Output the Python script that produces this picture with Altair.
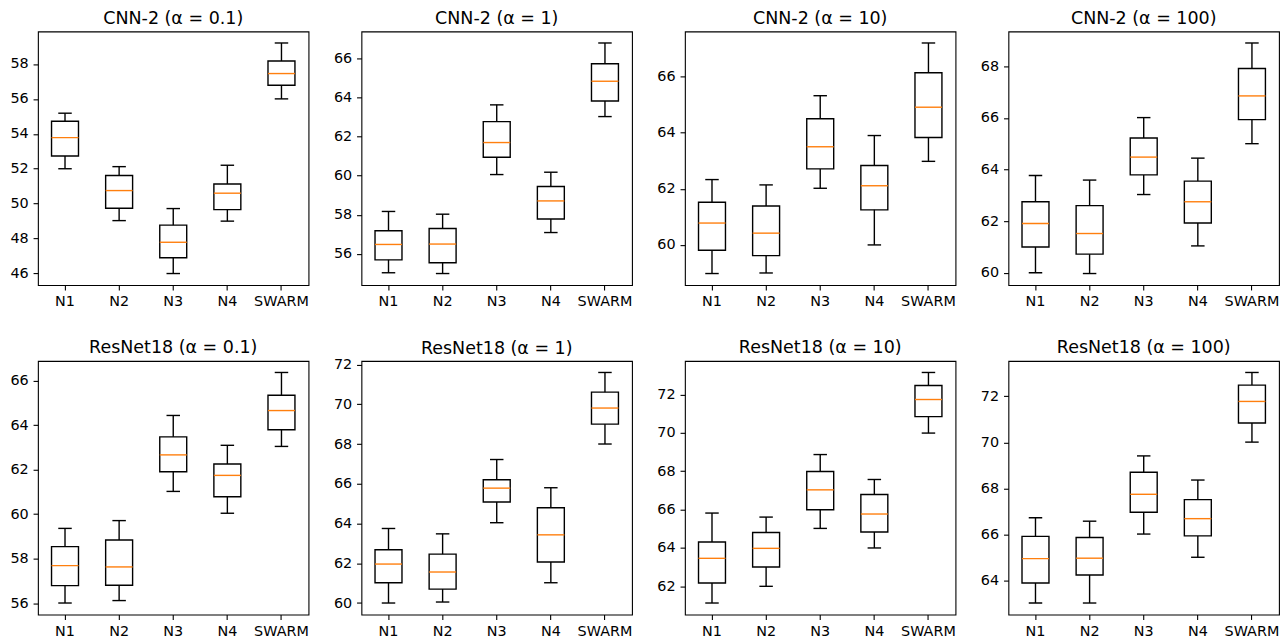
import altair as alt
import pandas as pd

clients = ["N1", "N2", "N3", "N4", "SWARM"]

titles = [
    "CNN-2 (α = 0.1)", "CNN-2 (α = 1)", "CNN-2 (α = 10)", "CNN-2 (α = 100)",
    "ResNet18 (α = 0.1)", "ResNet18 (α = 1)", "ResNet18 (α = 10)", "ResNet18 (α = 100)",
]

# whisker low, Q1, median, Q3, whisker high per panel (order of clients)
p1_lo = [52.00, 49.03, 46.00, 49.00, 56.00]
p1_q1 = [52.73, 49.74, 46.90, 49.66, 56.78]
p1_md = [53.78, 50.75, 47.79, 50.60, 57.45]
p1_q3 = [54.72, 51.61, 48.77, 51.13, 58.17]
p1_hi = [55.18, 52.12, 49.72, 52.20, 59.20]

p2_lo = [55.03, 54.99, 60.06, 57.09, 63.03]
p2_q1 = [55.69, 55.54, 60.95, 57.78, 63.83]
p2_md = [56.48, 56.50, 61.70, 58.71, 64.84]
p2_q3 = [57.18, 57.30, 62.77, 59.45, 65.74]
p2_hi = [58.17, 58.03, 63.63, 60.18, 66.80]

p3_lo = [58.98, 59.00, 62.02, 60.00, 62.98]
p3_q1 = [59.81, 59.62, 62.71, 61.25, 63.83]
p3_md = [60.78, 60.42, 63.50, 62.11, 64.91]
p3_q3 = [61.52, 61.39, 64.50, 62.83, 66.14]
p3_hi = [62.33, 62.14, 65.32, 63.90, 67.20]

p4_lo = [60.00, 59.97, 63.03, 61.04, 65.00]
p4_q1 = [61.00, 60.72, 63.79, 61.93, 65.93]
p4_md = [61.91, 61.52, 64.48, 62.75, 66.85]
p4_q3 = [62.75, 62.60, 65.22, 63.55, 67.91]
p4_hi = [63.77, 63.59, 66.01, 64.44, 68.90]

p5_lo = [56.01, 56.12, 61.02, 60.04, 63.04]
p5_q1 = [56.79, 56.81, 61.90, 60.78, 63.79]
p5_md = [57.69, 57.63, 62.66, 61.74, 64.65]
p5_q3 = [58.54, 58.84, 63.47, 62.25, 65.34]
p5_hi = [59.36, 59.71, 64.43, 63.09, 66.36]

p6_lo = [60.00, 60.05, 64.04, 61.02, 68.00]
p6_q1 = [61.02, 60.70, 65.08, 62.06, 69.00]
p6_md = [61.96, 61.56, 65.78, 63.43, 69.81]
p6_q3 = [62.68, 62.46, 66.20, 64.79, 70.61]
p6_hi = [63.75, 63.48, 67.22, 65.80, 71.60]

p7_lo = [61.13, 62.00, 65.02, 64.00, 69.99]
p7_q1 = [62.17, 63.01, 65.99, 64.83, 70.85]
p7_md = [63.46, 63.98, 67.03, 65.77, 71.74]
p7_q3 = [64.31, 64.81, 67.99, 66.79, 72.47]
p7_hi = [65.82, 65.61, 68.87, 67.57, 73.15]

p8_lo = [63.01, 63.01, 66.01, 65.00, 70.01]
p8_q1 = [63.88, 64.23, 66.96, 65.93, 70.84]
p8_md = [64.94, 64.96, 67.74, 66.68, 71.78]
p8_q3 = [65.91, 65.86, 68.70, 67.51, 72.49]
p8_hi = [66.72, 66.57, 69.41, 68.36, 73.04]

y_ticks = [
    [46, 48, 50, 52, 54, 56, 58],
    [56, 58, 60, 62, 64, 66],
    [60, 62, 64, 66],
    [60, 62, 64, 66, 68],
    [56, 58, 60, 62, 64, 66],
    [60, 62, 64, 66, 68, 70, 72],
    [62, 64, 66, 68, 70, 72],
    [64, 66, 68, 70, 72],
]

panels_data = [
    (p1_lo, p1_q1, p1_md, p1_q3, p1_hi),
    (p2_lo, p2_q1, p2_md, p2_q3, p2_hi),
    (p3_lo, p3_q1, p3_md, p3_q3, p3_hi),
    (p4_lo, p4_q1, p4_md, p4_q3, p4_hi),
    (p5_lo, p5_q1, p5_md, p5_q3, p5_hi),
    (p6_lo, p6_q1, p6_md, p6_q3, p6_hi),
    (p7_lo, p7_q1, p7_md, p7_q3, p7_hi),
    (p8_lo, p8_q1, p8_md, p8_q3, p8_hi),
]

# title offsets (panel 6's top tick label sticks above the frame, so its title sits lower)
title_offsets = [4, 4, 4, 4, 4, -1, 4, 4]

W, H = 271, 254
BOX = 27
LW = 1.4


def panel(i):
    lo, q1, md, q3, hi = panels_data[i]
    df = pd.DataFrame({"client": clients, "lo": lo, "q1": q1, "md": md, "q3": q3, "hi": hi})
    dmin, dmax = min(lo), max(hi)
    r = dmax - dmin
    yscale = alt.Scale(domain=[dmin - 0.05 * r, dmax + 0.05 * r], nice=False, zero=False)
    x = alt.X("client:N", sort=clients,
              scale=alt.Scale(paddingInner=0, paddingOuter=0),
              axis=alt.Axis(title=None, labelAngle=0))
    base = alt.Chart(df)
    whisk = base.mark_rule(color="black", strokeWidth=LW).encode(
        x=x,
        y=alt.Y("lo:Q", scale=yscale, axis=alt.Axis(title=None, values=y_ticks[i])),
        y2="hi:Q",
    )
    box = base.mark_bar(size=BOX, fill="white", stroke="black", strokeWidth=LW).encode(
        x=x, y="q1:Q", y2="q3:Q"
    )
    med = base.mark_tick(size=BOX, thickness=LW, color="#ff7f0e", opacity=1).encode(x=x, y="md:Q")
    cap_lo = base.mark_tick(size=BOX / 2, thickness=LW, color="black", opacity=1).encode(x=x, y="lo:Q")
    cap_hi = base.mark_tick(size=BOX / 2, thickness=LW, color="black", opacity=1).encode(x=x, y="hi:Q")
    return alt.layer(whisk, box, med, cap_lo, cap_hi).properties(
        width=W, height=H, title=alt.TitleParams(titles[i], offset=title_offsets[i])
    )


chart = (
    alt.concat(*[panel(i) for i in range(8)], columns=4,
               spacing={"row": 76, "column": 53}, bounds="flush")
    .properties(padding={"left": 1, "top": 0, "right": 0, "bottom": 0})
    .configure_view(stroke="black", strokeWidth=1.1)
    .configure_axis(
        domain=False, grid=False, tickColor="black", tickSize=4.9, tickWidth=1.1,
        labelColor="black", labelFont="DejaVu Sans", labelFontSize=14.4, labelPadding=4.9,
    )
    .configure_title(font="DejaVu Sans", fontSize=17.5, fontWeight="normal",
                     color="black", anchor="middle")
)

chart.save("out.html", embed_options={"renderer": "svg", "actions": False})
